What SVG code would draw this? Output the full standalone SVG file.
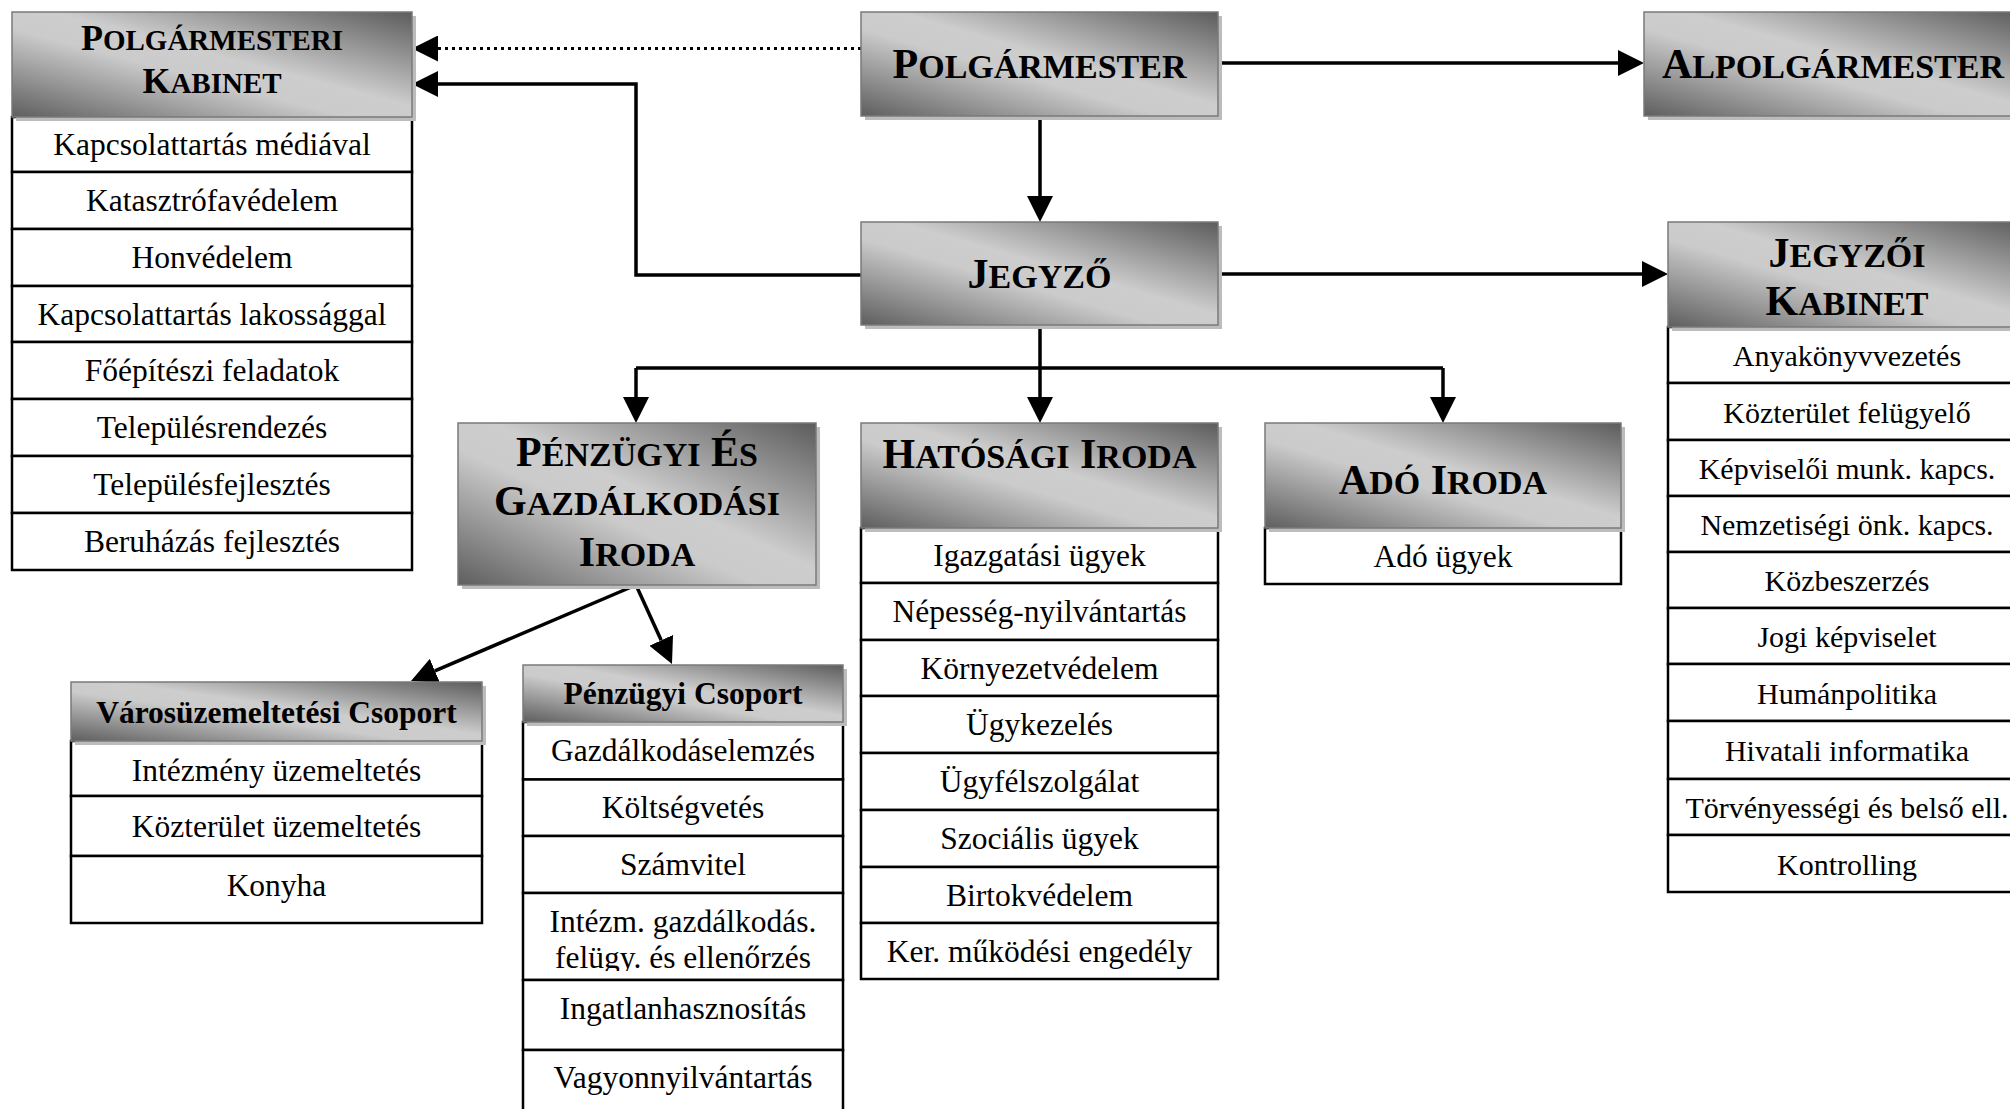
<svg xmlns="http://www.w3.org/2000/svg" width="2010" height="1109" viewBox="0 0 2010 1109">
<style>
.hdr{fill:url(#hg);stroke:#7a7a7a;stroke-width:1.5}
.sh{fill:#bcbcbc}
.row{fill:#fff;stroke:#000;stroke-width:2.5}
.big{font-family:"Liberation Serif","Times New Roman",serif;font-weight:bold;font-size:42px;text-anchor:middle;fill:#000}
.big .sc{font-size:34px}
.mid{font-family:"Liberation Serif","Times New Roman",serif;font-weight:bold;font-size:36px;text-anchor:middle;fill:#000}
.mid .sc{font-size:29px}
.t{font-family:"Liberation Serif","Times New Roman",serif;font-size:31.5px;text-anchor:middle;fill:#000}
.tj{font-family:"Liberation Serif","Times New Roman",serif;font-size:30px;text-anchor:middle;fill:#000}
.bt{font-family:"Liberation Serif","Times New Roman",serif;font-weight:bold;font-size:31.5px;text-anchor:middle;fill:#000}
.con{fill:none;stroke:#000;stroke-width:3.5}
.dot{stroke-width:3;stroke-dasharray:3 4}
</style>
<defs>
<linearGradient id="hg" x1="1" y1="0" x2="0" y2="1">
<stop offset="0" stop-color="#5c5c5c"/>
<stop offset="0.45" stop-color="#cdcdcd"/>
<stop offset="0.58" stop-color="#cbcbcb"/>
<stop offset="1" stop-color="#5e5e5e"/>
</linearGradient>
<marker id="ah" markerUnits="userSpaceOnUse" markerWidth="26" markerHeight="26" viewBox="0 0 26 26" refX="0" refY="13" orient="auto">
<path d="M0,0 L26,13 L0,26 z" fill="#000"/>
</marker>
<clipPath id="clipIG"><rect x="523" y="893" width="320" height="78"/></clipPath>
</defs>
<rect width="2010" height="1109" fill="#fff"/>

<g id="connectors">
<path class="con dot" d="M861,48.5 H438" marker-end="url(#ah)"/>
<path class="con" d="M861,275 H636 V84 H438" marker-end="url(#ah)"/>
<path class="con" d="M1218,63 H1618" marker-end="url(#ah)"/>
<path class="con" d="M1040,116 V196" marker-end="url(#ah)"/>
<path class="con" d="M1218,274 H1642" marker-end="url(#ah)"/>
<path class="con" d="M1040,325 V397" marker-end="url(#ah)"/>
<path class="con" d="M636,368 H1443"/>
<path class="con" d="M636,368 V397" marker-end="url(#ah)"/>
<path class="con" d="M1443,368 V397" marker-end="url(#ah)"/>
<path class="con" stroke-width="3" d="M636,585 L434.9,670.8" marker-end="url(#ah)"/>
<path class="con" stroke-width="3" d="M636,585 L661.2,640.3" marker-end="url(#ah)"/>
</g>

<g id="polgarmesteri-kabinet">
<rect class="row" x="12" y="117" width="400" height="55"/>
<rect class="row" x="12" y="172" width="400" height="57"/>
<rect class="row" x="12" y="229" width="400" height="57"/>
<rect class="row" x="12" y="286" width="400" height="56"/>
<rect class="row" x="12" y="342" width="400" height="57"/>
<rect class="row" x="12" y="399" width="400" height="57"/>
<rect class="row" x="12" y="456" width="400" height="57"/>
<rect class="row" x="12" y="513" width="400" height="57"/>
<rect class="sh" x="16" y="16" width="400" height="105"/>
<rect class="hdr" x="12" y="12" width="400" height="105"/>
<text class="mid" x="212" y="50">P<tspan class="sc">OLGÁRMESTERI</tspan></text>
<text class="mid" x="212" y="93">K<tspan class="sc">ABINET</tspan></text>
<text class="t" x="212" y="155">Kapcsolattartás médiával</text>
<text class="t" x="212" y="211">Katasztrófavédelem</text>
<text class="t" x="212" y="268">Honvédelem</text>
<text class="t" x="212" y="324.5">Kapcsolattartás lakossággal</text>
<text class="t" x="212" y="381">Főépítészi feladatok</text>
<text class="t" x="212" y="438">Településrendezés</text>
<text class="t" x="212" y="495">Településfejlesztés</text>
<text class="t" x="212" y="552">Beruházás fejlesztés</text>
</g>

<g id="polgarmester">
<rect class="sh" x="865" y="16" width="357" height="104"/>
<rect class="hdr" x="861" y="12" width="357" height="104"/>
<text class="big" x="1039.5" y="78">P<tspan class="sc">OLGÁRMESTER</tspan></text>
</g>

<g id="alpolgarmester">
<rect class="sh" x="1648" y="16" width="378" height="104"/>
<rect class="hdr" x="1644" y="12" width="378" height="104"/>
<text class="big" x="1833" y="78">A<tspan class="sc">LPOLGÁRMESTER</tspan></text>
</g>

<g id="jegyzo">
<rect class="sh" x="865" y="226" width="357" height="103"/>
<rect class="hdr" x="861" y="222" width="357" height="103"/>
<text class="big" x="1039.5" y="288">J<tspan class="sc">EGYZŐ</tspan></text>
</g>

<g id="jegyzoi-kabinet">
<rect class="row" x="1668" y="327" width="358" height="56"/>
<rect class="row" x="1668" y="383" width="358" height="57"/>
<rect class="row" x="1668" y="440" width="358" height="56"/>
<rect class="row" x="1668" y="496" width="358" height="56"/>
<rect class="row" x="1668" y="552" width="358" height="56"/>
<rect class="row" x="1668" y="608" width="358" height="56"/>
<rect class="row" x="1668" y="664" width="358" height="57"/>
<rect class="row" x="1668" y="721" width="358" height="58"/>
<rect class="row" x="1668" y="779" width="358" height="56"/>
<rect class="row" x="1668" y="835" width="358" height="57"/>
<rect class="sh" x="1672" y="226" width="358" height="105"/>
<rect class="hdr" x="1668" y="222" width="358" height="105"/>
<text class="big" x="1847" y="267">J<tspan class="sc">EGYZŐI</tspan></text>
<text class="big" x="1847" y="315">K<tspan class="sc">ABINET</tspan></text>
<text class="tj" x="1847" y="366">Anyakönyvvezetés</text>
<text class="tj" x="1847" y="422.5">Közterület felügyelő</text>
<text class="tj" x="1847" y="479">Képviselői munk. kapcs.</text>
<text class="tj" x="1847" y="535">Nemzetiségi önk. kapcs.</text>
<text class="tj" x="1847" y="591">Közbeszerzés</text>
<text class="tj" x="1847" y="647">Jogi képviselet</text>
<text class="tj" x="1847" y="703.5">Humánpolitika</text>
<text class="tj" x="1847" y="761">Hivatali informatika</text>
<text class="tj" x="1847" y="818">Törvényességi és belső ell.</text>
<text class="tj" x="1847" y="874.5">Kontrolling</text>
</g>

<g id="penzugyi-iroda">
<rect class="sh" x="462" y="427" width="358" height="162"/>
<rect class="hdr" x="458" y="423" width="358" height="162"/>
<text class="big" x="637" y="466">P<tspan class="sc">ÉNZÜGYI</tspan> É<tspan class="sc">S</tspan></text>
<text class="big" x="637" y="515">G<tspan class="sc">AZDÁLKODÁSI</tspan></text>
<text class="big" x="637" y="566">I<tspan class="sc">RODA</tspan></text>
</g>

<g id="hatosagi-iroda">
<rect class="row" x="861" y="528" width="357" height="55"/>
<rect class="row" x="861" y="583" width="357" height="57"/>
<rect class="row" x="861" y="640" width="357" height="56"/>
<rect class="row" x="861" y="696" width="357" height="57"/>
<rect class="row" x="861" y="753" width="357" height="57"/>
<rect class="row" x="861" y="810" width="357" height="57"/>
<rect class="row" x="861" y="867" width="357" height="56"/>
<rect class="row" x="861" y="923" width="357" height="56"/>
<rect class="sh" x="865" y="427" width="357" height="105"/>
<rect class="hdr" x="861" y="423" width="357" height="105"/>
<text class="big" x="1039.5" y="468">H<tspan class="sc">ATÓSÁGI</tspan> I<tspan class="sc">RODA</tspan></text>
<text class="t" x="1039.5" y="566">Igazgatási ügyek</text>
<text class="t" x="1039.5" y="622">Népesség-nyilvántartás</text>
<text class="t" x="1039.5" y="678.5">Környezetvédelem</text>
<text class="t" x="1039.5" y="735">Ügykezelés</text>
<text class="t" x="1039.5" y="792">Ügyfélszolgálat</text>
<text class="t" x="1039.5" y="849">Szociális ügyek</text>
<text class="t" x="1039.5" y="905.5">Birtokvédelem</text>
<text class="t" x="1039.5" y="961.5">Ker. működési engedély</text>
</g>

<g id="ado-iroda">
<rect class="row" x="1265" y="528" width="356" height="56"/>
<rect class="sh" x="1269" y="427" width="356" height="105"/>
<rect class="hdr" x="1265" y="423" width="356" height="105"/>
<text class="big" x="1443" y="494">A<tspan class="sc">DÓ</tspan> I<tspan class="sc">RODA</tspan></text>
<text class="t" x="1443" y="566.5">Adó ügyek</text>
</g>

<g id="varosuzemeltetesi-csoport">
<rect class="row" x="71" y="741" width="411" height="55"/>
<rect class="row" x="71" y="796" width="411" height="60"/>
<rect class="row" x="71" y="856" width="411" height="67"/>
<rect class="sh" x="75" y="686" width="411" height="59"/>
<rect class="hdr" x="71" y="682" width="411" height="59"/>
<text class="bt" x="276.5" y="723">Városüzemeltetési Csoport</text>
<text class="t" x="276.5" y="780.5">Intézmény üzemeltetés</text>
<text class="t" x="276.5" y="836.5">Közterület üzemeltetés</text>
<text class="t" x="276.5" y="896">Konyha</text>
</g>

<g id="penzugyi-csoport">
<rect class="row" x="523" y="722" width="320" height="57.5"/>
<rect class="row" x="523" y="779.5" width="320" height="56.5"/>
<rect class="row" x="523" y="836" width="320" height="57"/>
<rect class="row" x="523" y="893" width="320" height="87"/>
<rect class="row" x="523" y="980" width="320" height="70"/>
<rect class="row" x="523" y="1050" width="320" height="75"/>
<rect class="sh" x="527" y="669" width="320" height="57"/>
<rect class="hdr" x="523" y="665" width="320" height="57"/>
<text class="bt" x="683" y="704">Pénzügyi Csoport</text>
<text class="t" x="683" y="761">Gazdálkodáselemzés</text>
<text class="t" x="683" y="818">Költségvetés</text>
<text class="t" x="683" y="875">Számvitel</text>
<g clip-path="url(#clipIG)">
<text class="t" x="683" y="931.5">Intézm. gazdálkodás.</text>
<text class="t" x="683" y="968">felügy. és ellenőrzés</text>
</g>
<text class="t" x="683" y="1019">Ingatlanhasznosítás</text>
<text class="t" x="683" y="1088">Vagyonnyilvántartás</text>
</g>
</svg>
